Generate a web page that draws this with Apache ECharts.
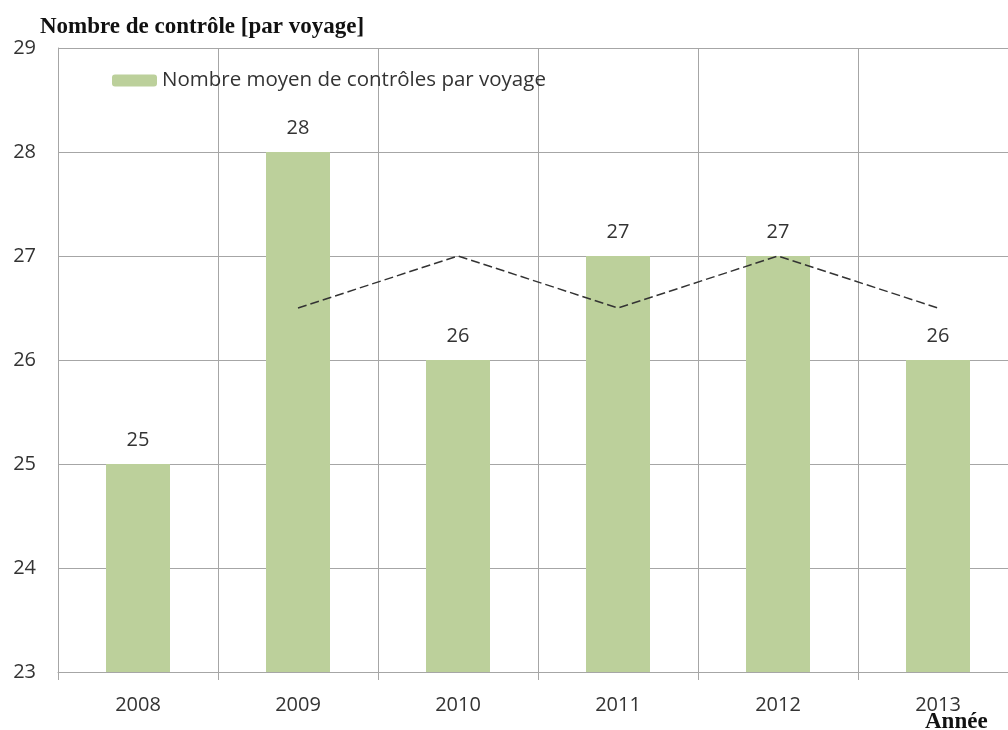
<!DOCTYPE html>
<html>
<head>
<meta charset="utf-8">
<script src="https://cdn.jsdelivr.net/npm/echarts@6/dist/echarts.min.js"></script>
<style>
  html, body { margin: 0; padding: 0; background: #fff; overflow: hidden; }
  /* the plot area runs slightly past the right edge of the page */
  #chart { width: 1018px; height: 730px; }
</style>
</head>
<body>
<div id="chart"></div>
<script>
// Average number of checks per trip, by year
const years = ['2008', '2009', '2010', '2011', '2012', '2013'];
const checksPerTrip = [25, 28, 26, 27, 27, 26];
// Two-period moving average trend (first year has no value)
const trendValues = [null, 26.5, 27, 26.5, 27, 26.5];
const yTicks = [23, 24, 25, 26, 27, 28, 29];

const barColor = '#bcd09b';
const gridColor = '#a6a6a6';
const labelFont = 'Open Sans';

const chart = echarts.init(document.getElementById('chart'));
chart.setOption({
  animation: false,
  backgroundColor: '#fff',
  title: [
    {
      text: 'Nombre de contrôle [par voyage]',
      left: 35, top: 11,
      textStyle: { fontFamily: 'Liberation Serif', fontWeight: 'bold', fontSize: 23, color: '#111' }
    },
    {
      text: 'Année',
      left: 920, top: 706,
      textStyle: { fontFamily: 'Liberation Serif', fontWeight: 'bold', fontSize: 23, color: '#111' }
    }
  ],
  legend: {
    data: ['Nombre moyen de contrôles par voyage'],
    left: 107, top: 65,
    itemWidth: 45, itemHeight: 12, itemGap: 5,
    textStyle: { fontFamily: labelFont, fontSize: 20.5, color: '#333' }
  },
  grid: { left: 58, top: 48, right: 0, bottom: 58, containLabel: false },
  xAxis: {
    type: 'category',
    data: years,
    boundaryGap: true,
    axisLine: { show: true, lineStyle: { color: gridColor, width: 1 } },
    axisTick: { show: true, length: 8, lineStyle: { color: gridColor } },
    splitLine: { show: true, lineStyle: { color: gridColor, width: 1 } },
    axisLabel: { fontFamily: labelFont, fontSize: 20, color: '#333', margin: 23 }
  },
  yAxis: {
    type: 'value',
    min: yTicks[0], max: yTicks[yTicks.length - 1], interval: 1,
    axisLine: { show: true, lineStyle: { color: gridColor, width: 1 } },
    axisTick: { show: false },
    splitLine: { show: true, lineStyle: { color: gridColor, width: 1 } },
    axisLabel: { fontFamily: labelFont, fontSize: 20, color: '#333', margin: 22, verticalAlign: 'middle', padding: [10, 0, 0, 0] }
  },
  series: [
    {
      name: 'Nombre moyen de contrôles par voyage',
      type: 'bar',
      data: checksPerTrip,
      barWidth: 64,
      itemStyle: { color: barColor },
      label: {
        show: true, position: 'top', distance: 14,
        fontFamily: labelFont, fontSize: 20, color: '#333'
      },
      z: 2
    },
    {
      name: 'Tendance',
      type: 'line',
      data: trendValues,
      symbol: 'none',
      connectNulls: false,
      lineStyle: { color: '#333', width: 1.5, type: [9, 4] },
      z: 3
    }
  ]
});
</script>
</body>
</html>
